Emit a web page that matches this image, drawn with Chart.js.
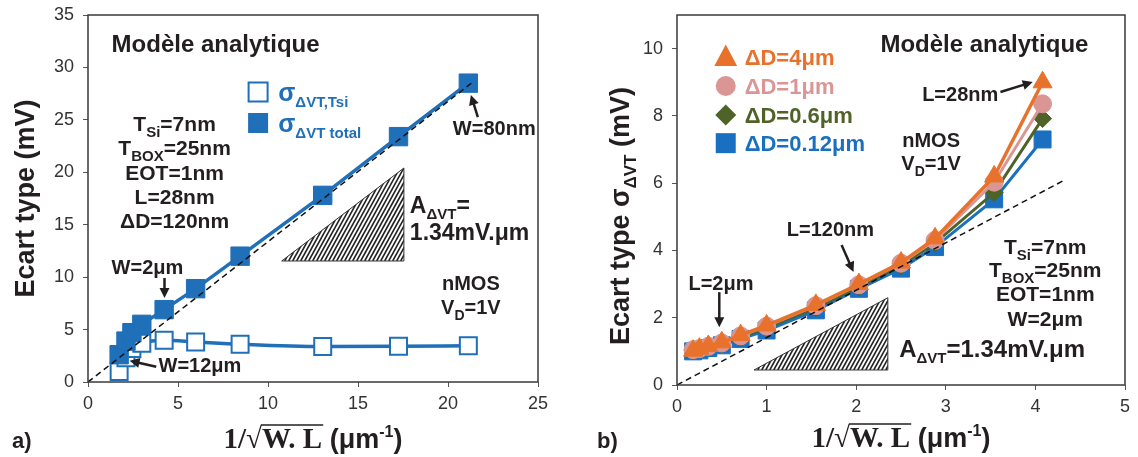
<!DOCTYPE html>
<html>
<head>
<meta charset="utf-8">
<script src="https://cdn.jsdelivr.net/npm/chart.js@4"></script>
<style>
  body { margin: 0; background: #fff; width: 1138px; height: 457px; overflow: hidden; position: relative; }
  canvas { position: absolute; top: 0; }
  #chartA { left: 0; }
  #chartB { left: 569px; }
</style>
</head>
<body>
<canvas id="chartA" width="569" height="457"></canvas>
<canvas id="chartB" width="569" height="457"></canvas>
<script>
// a) sigma vs 1/sqrt(W.L), L=28nm, W varies
const invSqrtA = [1.73, 2.11, 2.44, 2.99, 4.23, 5.98, 8.45, 13.04, 17.25, 21.13];
const sigmaTotal = [2.6, 3.9, 4.7, 5.5, 6.9, 8.9, 12.0, 17.8, 23.4, 28.5];
const sigmaTsi = [1.0, 2.3, 3.2, 3.7, 3.98, 3.82, 3.6, 3.38, 3.4, 3.45];
const guideAx = [0, 21.3];
const guideAy = [0, 28.5];

// b) sigma vs 1/sqrt(W.L), W=2um, L varies
const invSqrtB = [0.18, 0.25, 0.35, 0.5, 0.71, 1.0, 1.55, 2.03, 2.5, 2.88, 3.54, 4.08];
const dD4 = [1.02, 1.08, 1.16, 1.27, 1.48, 1.77, 2.38, 3.0, 3.64, 4.36, 6.2, 9.0];
const dD1 = [1.05, 1.08, 1.15, 1.25, 1.46, 1.75, 2.36, 2.98, 3.62, 4.3, 6.03, 8.36];
const dD06 = [1.03, 1.06, 1.13, 1.22, 1.42, 1.7, 2.3, 2.92, 3.55, 4.22, 5.72, 7.92];
const dD012 = [1.0, 1.03, 1.1, 1.18, 1.37, 1.62, 2.22, 2.86, 3.46, 4.1, 5.52, 7.3];
const guideBx = [0, 4.33];
const guideBy = [0, 6.1];

const SANS = '"Liberation Sans", Arial, sans-serif';
const SERIF = '"Liberation Serif", "DejaVu Serif", serif';
const INK = '#231f20';
const BLUE = '#1f6fb9';
const BLUE_B = '#1a70c0';
const ORANGE = '#e8722c';
const PINK = '#d99694';
const GREEN = '#4f6228';

function pts(xs, ys) {
    return xs.map((x, i) => ({ x: x, y: ys[i] }));
}

function fontOf(p) {
    return 'bold ' + p[1] + 'px ' + (p[3] || SANS);
}

// parts: [text, size, dy, family]
function rich(ctx, x, base, parts, align, color) {
    let w = 0;
    parts.forEach(p => { ctx.font = fontOf(p); w += ctx.measureText(p[0]).width; });
    let cx = align === 'center' ? x - w / 2 : (align === 'right' ? x - w : x);
    ctx.fillStyle = color || INK;
    ctx.textAlign = 'left';
    ctx.textBaseline = 'alphabetic';
    parts.forEach(p => {
        ctx.font = fontOf(p);
        ctx.fillText(p[0], cx, base + (p[2] || 0));
        cx += ctx.measureText(p[0]).width;
    });
    return w;
}

function arrow(ctx, x1, y1, x2, y2) {
    const a = Math.atan2(y2 - y1, x2 - x1);
    const len = 10, half = 5;
    ctx.strokeStyle = INK;
    ctx.fillStyle = INK;
    ctx.lineWidth = 2.5;
    ctx.beginPath();
    ctx.moveTo(x1, y1);
    ctx.lineTo(x2 - Math.cos(a) * len * 0.8, y2 - Math.sin(a) * len * 0.8);
    ctx.stroke();
    ctx.beginPath();
    ctx.moveTo(x2, y2);
    ctx.lineTo(x2 - Math.cos(a) * len + Math.sin(a) * half, y2 - Math.sin(a) * len - Math.cos(a) * half);
    ctx.lineTo(x2 - Math.cos(a) * len - Math.sin(a) * half, y2 - Math.sin(a) * len + Math.cos(a) * half);
    ctx.closePath();
    ctx.fill();
}

function trianglePath(ctx, x0, x1, yb, yt) {
    ctx.beginPath();
    ctx.moveTo(x0, yb);
    ctx.lineTo(x1, yb);
    ctx.lineTo(x1, yt);
    ctx.closePath();
}

function wedge(ctx, x0, x1, yb, yt) {
    ctx.save();
    trianglePath(ctx, x0, x1, yb, yt);
    ctx.clip();
    const h = yb - yt;
    ctx.strokeStyle = '#222';
    ctx.lineWidth = 1.6;
    for (let i = -h; i < x1 - x0 + 4; i += 4) {
        ctx.beginPath();
        ctx.moveTo(x0 + i, yb);
        ctx.lineTo(x0 + i + h * 0.55, yt);
        ctx.stroke();
    }
    ctx.restore();
    trianglePath(ctx, x0, x1, yb, yt);
    ctx.strokeStyle = '#333';
    ctx.lineWidth = 1;
    ctx.stroke();
}

function marker(ctx, style, x, y, r, fill, stroke) {
    ctx.beginPath();
    if (style === 'rect') {
        ctx.rect(x - r, y - r, 2 * r, 2 * r);
    } else if (style === 'circle') {
        ctx.arc(x, y, r, 0, Math.PI * 2);
    } else if (style === 'triangle') {
        ctx.moveTo(x, y - r * 1.05);
        ctx.lineTo(x + r * 0.95, y + r * 0.75);
        ctx.lineTo(x - r * 0.95, y + r * 0.75);
        ctx.closePath();
    } else if (style === 'diamond') {
        ctx.moveTo(x, y - r);
        ctx.lineTo(x + r, y);
        ctx.lineTo(x, y + r);
        ctx.lineTo(x - r, y);
        ctx.closePath();
    }
    ctx.fillStyle = fill;
    ctx.fill();
    if (stroke) {
        ctx.strokeStyle = stroke;
        ctx.lineWidth = 2;
        ctx.stroke();
    }
}

function xTitle(ctx, cx, cy) {
    const parts = [['1/', 29, 0, SERIF], ['\u221A', 29, 0, SERIF], ['W. L', 29, 0, SERIF],
                   [' (\u03BCm', 27, 0], ['-1', 16, -11], [')', 27, 0]];
    const base = cy + 10;
    let w = 0;
    const ws = parts.map(p => { ctx.font = fontOf(p); const m = ctx.measureText(p[0]).width; w += m; return m; });
    let x = cx - w / 2;
    rich(ctx, x, base, parts, 'left');
    // radical bar over W. L
    const barStart = x + ws[0] + ws[1] - 1;
    const barEnd = x + ws[0] + ws[1] + ws[2] + 1;
    ctx.strokeStyle = INK;
    ctx.lineWidth = 1.6;
    ctx.beginPath();
    ctx.moveTo(barStart, base - 23);
    ctx.lineTo(barEnd, base - 23);
    ctx.stroke();
}

function yTitle(ctx, cx, cy, parts) {
    ctx.save();
    ctx.translate(cx, cy);
    ctx.rotate(-Math.PI / 2);
    rich(ctx, 0, 0.36 * parts[0][1], parts, 'center');
    ctx.restore();
}

// notes: {x, y (data, text centre), parts, align, color}
function notesPlugin(cfg) {
    return {
        id: 'notes',
        afterDraw(chart) {
            const ctx = chart.ctx;
            const sx = chart.scales.x, sy = chart.scales.y;
            const px = v => sx.getPixelForValue(v);
            const py = v => sy.getPixelForValue(v);
            const area = chart.chartArea;
            ctx.save();
            ctx.strokeStyle = '#3a3a3a';
            ctx.lineWidth = 1.5;
            ctx.strokeRect(area.left, area.top, area.right - area.left, area.bottom - area.top);

            const w = cfg.wedge;
            wedge(ctx, px(w[0]), px(w[1]), py(w[2]), py(w[3]));

            cfg.arrows.forEach(a => arrow(ctx, px(a[0]), py(a[1]), px(a[2]), py(a[3])));

            cfg.legend.forEach(l => {
                marker(ctx, l.style, px(l.x), py(l.y), l.r, l.fill, l.stroke);
            });

            cfg.notes.forEach(n => {
                rich(ctx, px(n.x), py(n.y) + 0.36 * n.parts[0][1], n.parts, n.align || 'left', n.color);
            });

            const cx = (area.left + area.right) / 2;
            xTitle(ctx, cx, cfg.xTitleY);
            yTitle(ctx, cfg.yTitle[0], cfg.yTitle[1], cfg.yTitle[2]);
            rich(ctx, cfg.tag[0], cfg.tag[1], [[cfg.tag[2], 22]], 'left');
            ctx.restore();
        }
    };
}

function fixedAxes(yWidth, xHeight) {
    return {
        y: function (s) { s.width = yWidth; s.paddingTop = 0; s.paddingBottom = 0; },
        x: function (s) { s.height = xHeight; s.paddingLeft = 0; s.paddingRight = 0; }
    };
}

function scaleOpts(min, max, step, fit, isY) {
    return {
        type: 'linear',
        min: min,
        max: max,
        afterFit: fit,
        border: { display: false },
        grid: { drawOnChartArea: false, drawTicks: true, tickLength: 5, color: '#555' },
        ticks: {
            stepSize: step,
            includeBounds: false,
            color: '#333',
            padding: isY ? 9 : 6,
            font: { family: SANS, size: 18 },
            maxRotation: 0
        },
        title: { display: false }
    };
}

Chart.defaults.font.family = SANS;

// ---- chart a)
const fitA = fixedAxes(88, 75);
new Chart(document.getElementById('chartA'), {
    type: 'scatter',
    data: {
        datasets: [{
            data: pts(guideAx, guideAy),
            showLine: true,
            borderColor: '#111',
            borderWidth: 1.5,
            borderDash: [6, 4],
            pointRadius: 0,
        }, {
            data: pts(invSqrtA, sigmaTotal),
            showLine: true,
            borderColor: BLUE,
            borderWidth: 3.5,
            pointStyle: 'rect',
            pointRadius: 13,
            pointBackgroundColor: BLUE,
            pointBorderColor: BLUE,
            pointBorderWidth: 1,
        }, {
            data: pts(invSqrtA, sigmaTsi),
            showLine: true,
            cubicInterpolationMode: 'monotone',
            borderColor: BLUE,
            borderWidth: 3.5,
            pointStyle: 'rect',
            pointRadius: 12,
            pointBackgroundColor: '#fff',
            pointBorderColor: BLUE,
            pointBorderWidth: 2,
        }]
    },
    options: {
        responsive: false,
        animation: false,
        events: [],
        layout: { padding: { left: 0, right: 31, top: 15, bottom: 0 } },
        plugins: { legend: { display: false }, tooltip: { enabled: false } },
        scales: {
            x: scaleOpts(0, 25, 5, fitA.x, false),
            y: scaleOpts(0, 35, 5, fitA.y, true)
        }
    },
    plugins: [notesPlugin({
        wedge: [10.76, 17.55, 11.54, 20.41],
        arrows: [[21.66, 25.27, 21.27, 27.37], [4.25, 9.92, 4.25, 8.01], [3.79, 1.46, 2.31, 2.03]],
        legend: [
            { style: 'rect', x: 9.45, y: 27.65, r: 9.5, fill: '#fff', stroke: BLUE },
            { style: 'rect', x: 9.45, y: 24.7, r: 10, fill: BLUE }
        ],
        notes: [
            { x: 1.31, y: 32.3, parts: [['Mod\u00E8le analytique', 24]] },
            { x: 10.57, y: 27.65, parts: [['\u03C3', 25], ['\u0394VT,Tsi', 15, 6]], color: BLUE },
            { x: 10.57, y: 24.7, parts: [['\u03C3', 25], ['\u0394VT total', 15, 6]], color: BLUE },
            { x: 4.81, y: 24.7, align: 'center', parts: [['T', 21], ['Si', 15, 6], ['=7nm', 21]] },
            { x: 4.81, y: 22.4, align: 'center', parts: [['T', 21], ['BOX', 15, 6], ['=25nm', 21]] },
            { x: 4.81, y: 20.0, align: 'center', parts: [['EOT=1nm', 21]] },
            { x: 4.81, y: 17.7, align: 'center', parts: [['L=28nm', 21]] },
            { x: 4.81, y: 15.45, align: 'center', parts: [['\u0394D=120nm', 21]] },
            { x: 20.27, y: 24.2, parts: [['W=80nm', 20]] },
            { x: 17.88, y: 16.88, parts: [['A', 23], ['\u0394VT', 15, 6], ['=', 23]] },
            { x: 17.88, y: 14.3, parts: [['1.34mV.\u03BCm', 23]] },
            { x: 1.31, y: 10.97, parts: [['W=2\u03BCm', 20]] },
            { x: 21.27, y: 9.44, align: 'center', parts: [['nMOS', 20]] },
            { x: 21.27, y: 7.15, align: 'center', parts: [['V', 20], ['D', 14, 6], ['=1V', 20]] },
            { x: 3.92, y: 1.62, parts: [['W=12\u03BCm', 20]] }
        ],
        xTitleY: 438,
        yTitle: [24, 198.5, [['Ecart type (mV)', 27]]],
        tag: [12, 448, 'a)']
    })]
});

// ---- chart b)
const fitB = fixedAxes(108, 72);
function seriesB(ys, color, style, r, lw) {
    return {
        data: pts(invSqrtB, ys),
        showLine: true,
        borderColor: color,
        borderWidth: lw,
        pointStyle: style,
        pointRadius: r,
        pointBackgroundColor: color,
        pointBorderColor: color,
        pointBorderWidth: 1,
    };
}
new Chart(document.getElementById('chartB'), {
    type: 'scatter',
    data: {
        datasets: [{
            data: pts(guideBx, guideBy),
            showLine: true,
            borderColor: '#111',
            borderWidth: 1.5,
            borderDash: [6, 4],
            pointRadius: 0,
        },
            seriesB(dD4, ORANGE, 'triangle', 11, 3.5),
            seriesB(dD1, PINK, 'circle', 9, 3),
            seriesB(dD06, GREEN, 'rectRot', 9, 3),
            seriesB(dD012, BLUE_B, 'rect', 12, 3)
        ]
    },
    options: {
        responsive: false,
        animation: false,
        events: [],
        layout: { padding: { left: 0, right: 10, top: 15, bottom: 0 } },
        plugins: { legend: { display: false }, tooltip: { enabled: false } },
        scales: {
            x: scaleOpts(0, 5, 1, fitB.x, false),
            y: scaleOpts(0, 11, 2, fitB.y, true)
        }
    },
    plugins: [notesPlugin({
        wedge: [0.86, 2.353, 0.446, 2.595],
        arrows: [[3.61, 8.71, 3.97, 9.01], [1.837, 4.16, 1.97, 3.36], [0.472, 2.76, 0.472, 1.72]],
        legend: [
            { style: 'triangle', x: 0.544, y: 9.75, r: 12, fill: ORANGE },
            { style: 'circle', x: 0.544, y: 8.89, r: 10, fill: PINK },
            { style: 'diamond', x: 0.544, y: 8.03, r: 10.5, fill: GREEN },
            { style: 'rect', x: 0.544, y: 7.19, r: 10, fill: BLUE_B }
        ],
        notes: [
            { x: 2.27, y: 10.17, parts: [['Mod\u00E8le analytique', 24]] },
            { x: 0.755, y: 9.75, parts: [['\u0394D=4\u03BCm', 22]], color: ORANGE },
            { x: 0.755, y: 8.89, parts: [['\u0394D=1\u03BCm', 22]], color: PINK },
            { x: 0.755, y: 8.03, parts: [['\u0394D=0.6\u03BCm', 22]], color: GREEN },
            { x: 0.755, y: 7.19, parts: [['\u0394D=0.12\u03BCm', 22]], color: BLUE_B },
            { x: 2.736, y: 8.65, parts: [['L=28nm', 20]] },
            { x: 2.836, y: 7.28, align: 'center', parts: [['nMOS', 20]] },
            { x: 2.836, y: 6.6, align: 'center', parts: [['V', 20], ['D', 14, 6], ['=1V', 20]] },
            { x: 1.226, y: 4.64, parts: [['L=120nm', 20]] },
            { x: 0.128, y: 3.03, parts: [['L=2\u03BCm', 20]] },
            { x: 4.11, y: 4.13, align: 'center', parts: [['T', 21], ['Si', 15, 6], ['=7nm', 21]] },
            { x: 4.11, y: 3.45, align: 'center', parts: [['T', 21], ['BOX', 15, 6], ['=25nm', 21]] },
            { x: 4.11, y: 2.71, align: 'center', parts: [['EOT=1nm', 21]] },
            { x: 4.11, y: 1.99, align: 'center', parts: [['W=2\u03BCm', 21]] },
            { x: 2.48, y: 1.10, parts: [['A', 24], ['\u0394VT', 15, 6], ['=1.34mV.\u03BCm', 24]] }
        ],
        xTitleY: 437,
        yTitle: [50, 216, [['Ecart type \u03C3', 27], ['\u0394VT', 17, 7], [' (mV)', 27]]],
        tag: [28, 448, 'b)']
    })]
});
</script>
</body>
</html>
